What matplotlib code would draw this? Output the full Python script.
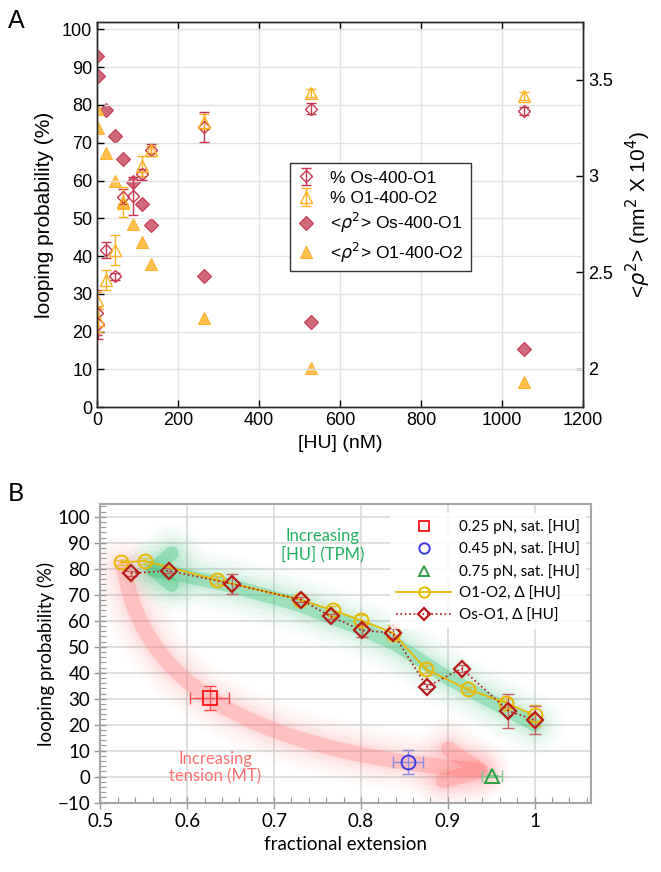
import numpy as np
import matplotlib
matplotlib.use('Agg')
import matplotlib.pyplot as plt
from matplotlib.ticker import MultipleLocator
from matplotlib.path import Path
from matplotlib.patches import PathPatch

# ---------------- Panel A data ----------------
hu_os = [0, 2.6, 22, 44, 65, 88, 110, 132, 264, 527, 1054]
loop_os = [25, 22, 41.6, 34.6, 55.7, 56.0, 61.6, 68.1, 74.2, 79.0, 78.4]
loop_os_err = [6, 4, 2, 1, 2, 5, 1.5, 1.5, 4, 1.5, 1]

hu_o1 = [0, 2.6, 22, 44, 65, 110, 132, 264, 527, 1054]
loop_o1 = [28.4, 23, 33.7, 41.6, 54.4, 63.9, 68.2, 75.5, 83.2, 82.4]
loop_o1_err = [2, 3, 2.7, 4, 4, 2.6, 1, 2, 1, 1]

rho_os = [3.62, 3.52, 3.34, 3.21, 3.09, 2.97, 2.856, 2.744, 2.48, 2.243, 2.10]
rho_o1 = [3.35, 3.25, 3.12, 2.976, 2.859, 2.749, 2.657, 2.542, 2.264, 2.005, 1.93]

# ---------------- Panel B data ----------------
ext_o1o2 = [0.524, 0.551, 0.634, 0.730, 0.768, 0.800, 0.837, 0.875, 0.923, 0.967, 1.0]
loop_o1o2 = [82.5, 83.0, 75.7, 68.1, 64.0, 60.2, 55.3, 41.3, 33.6, 28.5, 23.6]
loop_o1o2_err = [1, 1, 1.5, 1, 1.5, 2, 3, 1.5, 1, 1.5, 4]

ext_oso1 = [0.535, 0.579, 0.651, 0.731, 0.765, 0.801, 0.837, 0.876, 0.916, 0.970, 1.0]
loop_oso1 = [78.3, 79.2, 74.2, 68.1, 61.7, 56.3, 55.3, 34.6, 41.6, 25.3, 21.8]
loop_oso1_err = [1, 1, 3.8, 1, 1, 2.6, 2, 1, 1.5, 6.6, 5.3]

mt_force = ['0.25 pN, sat. [HU]', '0.45 pN, sat. [HU]', '0.75 pN, sat. [HU]']
mt_ext = [0.626, 0.854, 0.951]
mt_ext_err = [0.0225, 0.0173, 0.012]
mt_loop = [30.2, 5.5, 0.2]
mt_loop_err = [4.5, 4.6, 0.5]

# guide arrows (data coords): green polyline, red cubic bezier control points
green_x = [1.0, 0.95, 0.90, 0.84, 0.80, 0.73, 0.65, 0.58, 0.56]
green_y = [20, 29, 38, 51, 57, 66, 73.5, 78.5, 79.6]
green_head_x = [0.582, 0.561, 0.582]
green_head_y = [86, 79.6, 73.8]
red_ctrl_x = [0.527, 0.545, 0.65, 0.935]
red_ctrl_y = [81, 40, 10, 2.5]
red_head_x = [0.901, 0.938, 0.895]
red_head_y = [10.6, 2.3, -1.5]

fig = plt.figure(figsize=(6.61, 8.72), dpi=100)

# ======================= Panel A =======================
plt.rcParams['font.family'] = ['Liberation Sans', 'DejaVu Sans']
red = '#c8374f'
orange = '#ffb020'

axA = fig.add_axes([0.147, 0.533, 0.735, 0.442])
axA2 = axA.twinx()
axA.set_zorder(axA2.get_zorder() + 1)
axA.patch.set_visible(False)

e1 = axA.errorbar(hu_os, loop_os, yerr=loop_os_err, fmt='D', mfc='none', mec=red,
                  ecolor=red, ms=6, mew=1.0, capsize=3.5, elinewidth=1.0, label='% Os-400-O1')
e2 = axA.errorbar(hu_o1, loop_o1, yerr=loop_o1_err, fmt='^', mfc='none', mec=orange,
                  ecolor=orange, ms=8, mew=1.0, capsize=3.5, elinewidth=1.0, label='% O1-400-O2')
s1, = axA2.plot(hu_os, rho_os, 'D', ms=7, mfc='#d06a7a', mec=red, mew=0.8,
                label=r'<$\rho^2$> Os-400-O1')
s2, = axA2.plot(hu_os, rho_o1, '^', ms=8.5, mfc='#ffc04d', mec='#ffb030', mew=0.8,
                label=r'<$\rho^2$> O1-400-O2')

axA.set_xlim(0, 1200)
axA.set_ylim(0, 102)
axA2.set_ylim(1.8, 3.8)
axA.set_xticks(np.arange(0, 1201, 200))
axA.set_yticks(np.arange(0, 101, 10))
axA2.set_yticks([2, 2.5, 3, 3.5])
axA2.set_yticklabels(['2', '2.5', '3', '3.5'])
axA.grid(True, color='#e2e2e2', lw=1.0)
axA.set_axisbelow(True)
axA.tick_params(direction='in', length=5, labelsize=13, top=True, width=1.0)
axA2.tick_params(direction='in', length=5, labelsize=13, width=1.0)
for ax in (axA, axA2):
    for sp in ax.spines.values():
        sp.set_color('#262626')
        sp.set_linewidth(1.0)
axA.set_xlabel('[HU] (nM)', fontsize=14, labelpad=4)
axA.set_ylabel('looping probability (%)', fontsize=15, labelpad=6)
axA2.set_ylabel(r'<$\rho^2$> (nm$^2$ X 10$^4$)', fontsize=15, labelpad=8)

legA = axA.legend(handles=[e1, e2, s1, s2], loc='upper left', bbox_to_anchor=(0.38, 0.655),
                  fontsize=12.5, frameon=True, fancybox=False, edgecolor='#333333',
                  framealpha=1, handlelength=1.0, borderpad=0.4, labelspacing=0.3,
                  handletextpad=0.9)
legA.get_frame().set_linewidth(1.0)

fig.text(0.012, 0.968, 'A', fontsize=18)

# ======================= Panel B =======================
fontB = ['Lato', 'DejaVu Sans']
axB = fig.add_axes([0.152, 0.0795, 0.742, 0.3422])

glow_steps = [(44, 0.025), (36, 0.035), (28, 0.045), (21, 0.055), (15, 0.065)]

def glow_line(ax, xs, ys, color, core_lw, core_alpha):
    for lw, a in glow_steps:
        ax.plot(xs, ys, color=color, lw=lw, alpha=a, solid_capstyle='round',
                solid_joinstyle='round', zorder=1)
    ax.plot(xs, ys, color=color, lw=core_lw, alpha=core_alpha, solid_capstyle='round',
            solid_joinstyle='round', zorder=1)

def glow_curve(ax, cx, cy, color, core_lw, core_alpha):
    path = Path(list(zip(cx, cy)), [Path.MOVETO, Path.CURVE4, Path.CURVE4, Path.CURVE4])
    for lw, a in glow_steps + [(core_lw, core_alpha)]:
        ax.add_patch(PathPatch(path, fill=False, edgecolor=color, lw=lw, alpha=a,
                               capstyle='round', joinstyle='round', zorder=1))

glow_line(axB, green_x, green_y, '#30c070', 10, 0.33)
glow_line(axB, green_head_x, green_head_y, '#30c070', 10, 0.33)
glow_curve(axB, red_ctrl_x, red_ctrl_y, '#ff6a6a', 11, 0.26)
glow_line(axB, red_head_x, red_head_y, '#ff6a6a', 11, 0.26)

yel = '#e8b800'
dred = '#b01010'
axB.errorbar(ext_o1o2, loop_o1o2, yerr=loop_o1o2_err, fmt='none', ecolor='#e0c040',
             capsize=4, elinewidth=1.0, zorder=3)
axB.plot(ext_o1o2, loop_o1o2, '-o', color=yel, lw=1.3, ms=10, mfc='none', mec=yel,
         mew=1.4, zorder=4, label='O1-O2, Δ [HU]')
axB.errorbar(ext_oso1, loop_oso1, yerr=loop_oso1_err, fmt='none', ecolor='#c86060',
             capsize=4, elinewidth=1.0, zorder=3)
axB.plot(ext_oso1, loop_oso1, ':D', color=dred, lw=1.2, ms=8, mfc='none', mec='#b81a1a',
         mew=1.6, zorder=5, label='Os-O1, Δ [HU]')

mt_marker = ['s', 'o', '^']
mt_color = ['#ff2020', '#3a3ae0', '#2aa040']
mt_ecolor = ['#ff5050', '#8a8ae0', '#80c890']
for i in range(len(mt_force)):
    axB.errorbar(mt_ext[i], mt_loop[i], xerr=mt_ext_err[i], yerr=mt_loop_err[i],
                 fmt='none', ecolor=mt_ecolor[i], capsize=4, elinewidth=1.0, zorder=3)
    axB.plot(mt_ext[i], mt_loop[i], mt_marker[i], ms=10, mfc='none', mec=mt_color[i],
             mew=1.4, zorder=4, label=mt_force[i])

axB.text(0.756, 89, 'Increasing\n[HU] (TPM)', color='#22b060', fontsize=12,
         ha='center', va='center', family=fontB, linespacing=1.15, zorder=6)
axB.text(0.632, 3.5, 'Increasing\ntension (MT)', color='#ff7070', fontsize=12,
         ha='center', va='center', family=fontB, linespacing=1.15, zorder=6)

axB.set_xlim(0.5, 1.065)
axB.set_ylim(-10, 104.8)
axB.set_xticks(np.arange(0.5, 1.01, 0.1))
axB.set_xticklabels(['0.5', '0.6', '0.7', '0.8', '0.9', '1'])
axB.set_yticks(np.arange(-10, 101, 10))
axB.xaxis.set_minor_locator(MultipleLocator(0.02))
axB.yaxis.set_minor_locator(MultipleLocator(2))
axB.grid(True, which='major', color='#d9d9d9', lw=1.2)
axB.set_axisbelow(True)
axB.tick_params(which='major', direction='inout', length=8, color='#999999',
                labelsize=13.5, width=1.0)
axB.tick_params(which='minor', direction='in', length=4, color='#999999', width=0.8)
for lab in axB.get_xticklabels() + axB.get_yticklabels():
    lab.set_family(fontB)
for sp in axB.spines.values():
    sp.set_color('#a6a6a6')
    sp.set_linewidth(1.5)
axB.set_xlabel('fractional extension', fontsize=13.5, family=fontB, labelpad=4)
axB.set_ylabel('looping probability (%)', fontsize=13.5, family=fontB, labelpad=2)

h, l = axB.get_legend_handles_labels()
order = [l.index(k) for k in mt_force + ['O1-O2, Δ [HU]', 'Os-O1, Δ [HU]']]
legB = axB.legend([h[i] for i in order], [l[i] for i in order], loc='upper right',
                  bbox_to_anchor=(1.005, 0.997), frameon=True, facecolor='white', framealpha=0.85,
                  edgecolor='none', prop={'family': fontB, 'size': 11},
                  handlelength=3.6, labelspacing=0.5, markerscale=0.75, handletextpad=0.5)

fig.text(0.012, 0.425, 'B', fontsize=18, family=fontB)

fig.savefig('out.png', dpi=100)
